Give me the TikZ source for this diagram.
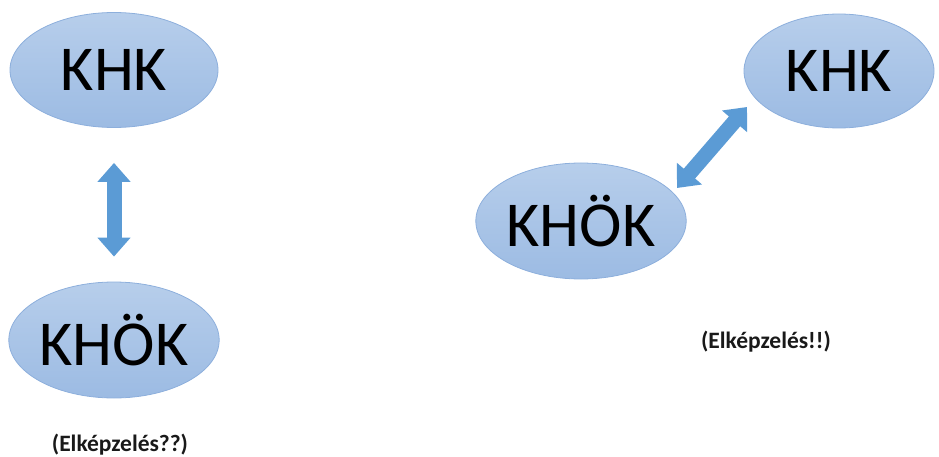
\documentclass[tikz,border=0pt]{standalone}
\usepackage{fontspec}
\setmainfont{Carlito}
\usetikzlibrary{positioning}
\usetikzlibrary{shapes.geometric}
\usetikzlibrary{arrows.meta}
\definecolor{ovaltop}{HTML}{B7CEEB}
\definecolor{ovalbot}{HTML}{9CBBE3}
\definecolor{ovaledge}{HTML}{8DAFDC}
\definecolor{arrowfill}{HTML}{5B9BD5}
\tikzset{
  oval/.style={ellipse, draw=ovaledge, line width=0.8pt, top color=ovaltop, bottom color=ovalbot,
    inner sep=0pt, font=\fontsize{64}{64}\selectfont, text=black},
  dblarrow/.style={draw=arrowfill, line width=15pt,
    {Triangle[length=19pt,width=32pt]}-{Triangle[length=19pt,width=32pt]}},
  caption/.style={font=\fontsize{23.5}{24}\selectfont\bfseries, text=black!90}
}
\begin{document}
\begin{tikzpicture}[x=1pt,y=-1pt]
\useasboundingbox (0,0) rectangle (939,457);
\node [oval, minimum width=208pt, minimum height=115pt] (khk1) at (114,70) {KHK};
\node [oval, minimum width=208pt, minimum height=116pt] (khok1) at (114,340) {KHÖK};
\node [oval, minimum width=208pt, minimum height=116pt] (khok2) at (581,221) {KHÖK};
\node [oval, minimum width=190pt, minimum height=114pt] (khk2) at (839,71) {KHK};
\node [caption] (cap1) at (120,445) {(Elképzelés??)};
\node [caption] (cap2) at (766,342) {(Elképzelés!!)};
\coordinate (a1) at (677,188);
\coordinate (a2) at (747,107);
\draw [dblarrow, shorten <=35pt, shorten >=25pt] (khk1.south) -- (khok1.north);
\draw [dblarrow] (a1) -- (a2);
\end{tikzpicture}
\end{document}
